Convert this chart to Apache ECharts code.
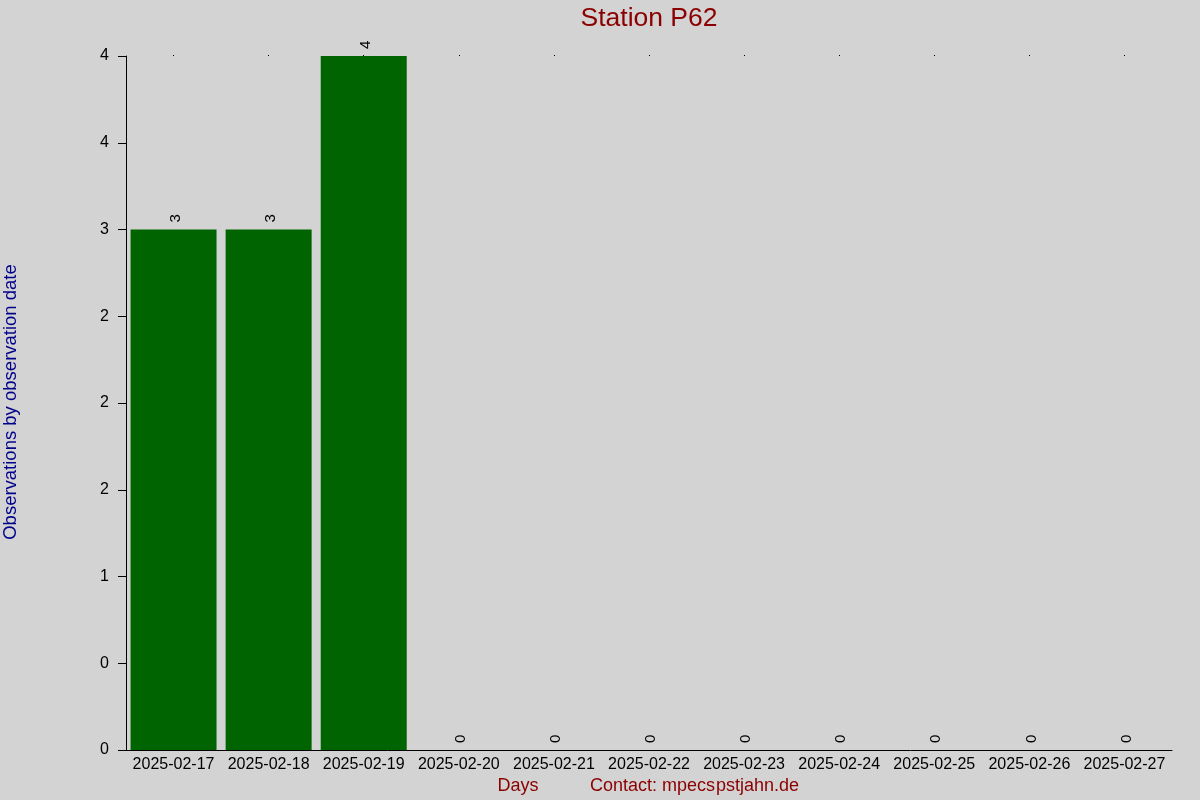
<!DOCTYPE html>
<html><head><meta charset="utf-8">
<script src="https://cdn.jsdelivr.net/npm/echarts@6/dist/echarts.min.js"></script>
<style>html,body{margin:0;padding:0;background:#d3d3d3}#c{width:1200px;height:800px}</style>
</head><body><div id="c"></div>
<script>
const categories = ["2025-02-17","2025-02-18","2025-02-19","2025-02-20","2025-02-21","2025-02-22","2025-02-23","2025-02-24","2025-02-25","2025-02-26","2025-02-27"];
const observations = [3,3,4,0,0,0,0,0,0,0,0];
const titleText = "Station P62";
const yName = "Observations by observation date";

function roundHalfEven(v){
  const f = Math.floor(v);
  if (Math.abs(v - f - 0.5) < 1e-9) return (f % 2 === 0) ? f : f + 1;
  return Math.round(v);
}
const FONT = "Liberation Sans, Arial, sans-serif";
const chart = echarts.init(document.getElementById('c'));
chart.setOption({
  backgroundColor: '#d3d3d3',
  animation: false,
  graphic: [
    {type: 'text', x: 649, y: 19,
      style: {text: titleText, fill: '#8b0000', font: '26.5px ' + FONT, align: 'center', verticalAlign: 'middle'}},
    {type: 'text', x: 11, y: 402, rotation: Math.PI/2,
      style: {text: yName, fill: '#00008b', font: '18.5px ' + FONT, align: 'center', verticalAlign: 'middle'}},
    {type: 'text', x: 518, y: 786,
      style: {text: 'Days', fill: '#8b0000', font: '18px ' + FONT, align: 'center', verticalAlign: 'middle'}},
    {type: 'text', x: 590, y: 786,
      style: {text: 'Contact: mpecs', fill: '#8b0000', font: '18px ' + FONT, align: 'left', verticalAlign: 'middle'}},
    {type: 'text', x: 716, y: 786,
      style: {text: 'pstjahn.de', fill: '#8b0000', font: '18px ' + FONT, align: 'left', verticalAlign: 'middle'}}
  ],
  grid: {left: 126, right: 28, top: 56, bottom: 50, containLabel: false},
  xAxis: [{
    type: 'category', data: categories, boundaryGap: true,
    axisLine: {show: true, lineStyle: {color: '#000', width: 1}},
    axisTick: {show: false},
    axisLabel: {color: '#000', fontSize: 16, fontFamily: FONT, margin: 7, interval: 0}
  },{
    type: 'category', data: categories, position: 'top', boundaryGap: true,
    axisLine: {show: false},
    axisTick: {show: true, alignWithLabel: true, length: 1, lineStyle: {color: '#000'}},
    axisLabel: {show: false}
  }],
  yAxis: {
    type: 'value', min: 0, max: 4, interval: 0.5,
    axisLine: {show: true, lineStyle: {color: '#000'}},
    axisTick: {show: true, length: 8, lineStyle: {color: '#000'}},
    splitLine: {show: false},
    axisLabel: {color: '#000', fontSize: 16, fontFamily: FONT, margin: 17,
      formatter: v => String(roundHalfEven(v))}
  },
  series: [{
    type: 'bar', data: observations, barWidth: 86,
    itemStyle: {color: '#006400'},
    label: {show: true, position: 'top', rotate: 90, distance: 7, offset: [0, 2],
      align: 'left', verticalAlign: 'middle',
      color: '#000', fontSize: 15, fontFamily: FONT}
  }]
});
</script></body></html>
